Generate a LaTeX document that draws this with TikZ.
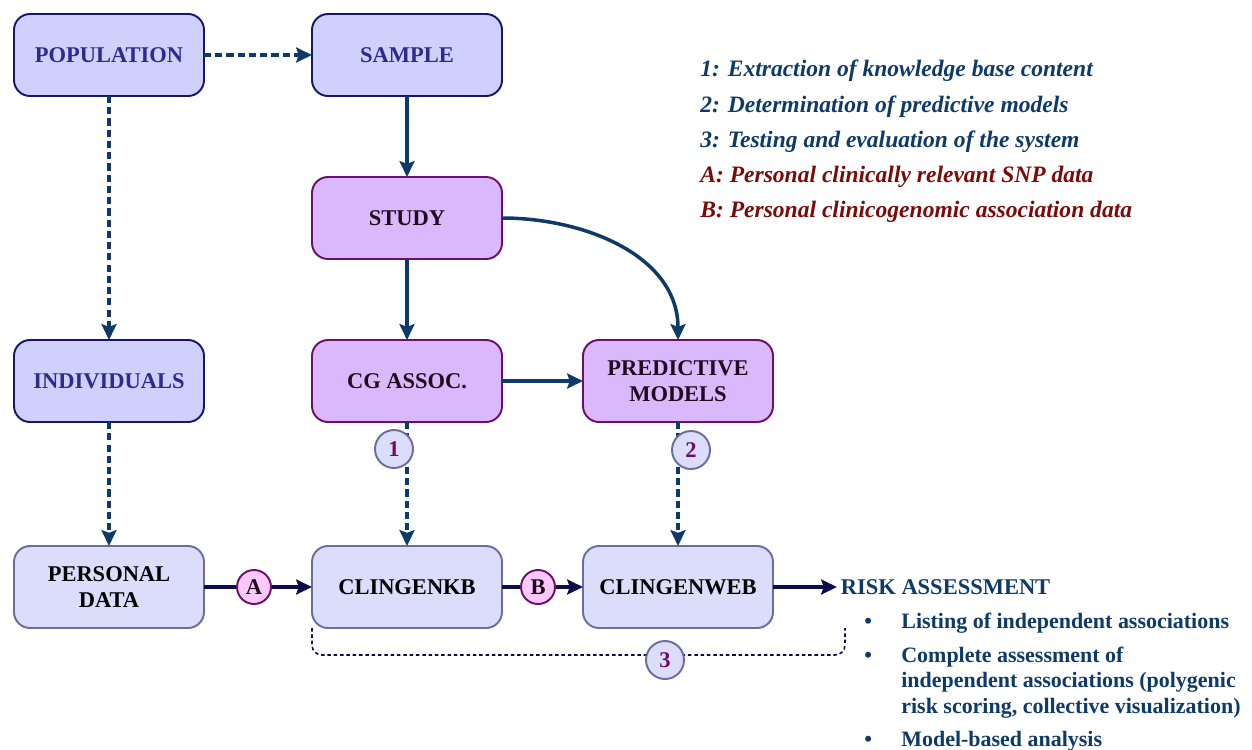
\documentclass[tikz,border=0pt]{standalone}
\usepackage{fontspec}
\setmainfont{Liberation Serif}
\usetikzlibrary{positioning,arrows.meta}
\definecolor{TopFill}{HTML}{CFD0FB}
\definecolor{TopLine}{HTML}{16166C}
\definecolor{TopText}{HTML}{2C2C8E}
\definecolor{PurpFill}{HTML}{DBB8FB}
\definecolor{PurpLine}{HTML}{6A0F6A}
\definecolor{PurpText}{HTML}{1E0B1E}
\definecolor{LowFill}{HTML}{DCDCFB}
\definecolor{LowLine}{HTML}{6C6C9E}
\definecolor{PinkFill}{HTML}{FAC8FA}
\definecolor{ArrowBlue}{HTML}{0E3A68}
\definecolor{DeepNavy}{HTML}{0C0C4A}
\definecolor{LegRed}{HTML}{7A0B0B}

\begin{document}
\begin{tikzpicture}[node distance=1.62cm and 2.16cm,
  every node/.style={font=\fontsize{12.8}{14.5}\selectfont\bfseries,align=center},
  box/.style={draw,rounded corners=0.32cm,line width=1.1pt,outer sep=0pt,minimum width=3.8cm,minimum height=1.64cm},
  topbox/.style={box,fill=TopFill,draw=TopLine,text=TopText},
  studybox/.style={box,fill=PurpFill,draw=PurpLine,text=PurpText},
  lowbox/.style={box,fill=LowFill,draw=LowLine,text=black},
  numcirc/.style={circle,draw=LowLine,fill=LowFill,text=PurpLine,line width=1.1pt,minimum size=0.76cm,inner sep=0pt},
  letcirc/.style={circle,draw=PurpLine,fill=PinkFill,text=PurpText,line width=1.1pt,minimum size=0.68cm,inner sep=0pt},
  solarr/.style={-{Stealth[length=9pt,width=8.5pt,inset=1.5pt]},line width=2pt,ArrowBlue},
  dasharr/.style={solarr,dash pattern=on 4pt off 2.4pt},
  navyarr/.style={solarr,DeepNavy}]
  \useasboundingbox (0,0) rectangle (25.04,-14.98);

  % upper part
  \node[topbox] (pop) at (2.18,-1.10) {POPULATION};
  \node[topbox,right=of pop] (smp) {SAMPLE};
  \node[studybox,below=of smp] (std) {STUDY};
  \node[studybox,below=of std] (cg) {CG ASSOC.};
  \node[topbox,left=of cg] (ind) {INDIVIDUALS};
  \node[studybox,right=1.62cm of cg] (pm) {PREDICTIVE\\MODELS};

  % lower part
  \node[lowbox,below=2.48cm of cg] (kb) {CLINGENKB};
  \node[lowbox,left=of kb] (pd) {PERSONAL\\DATA};
  \node[lowbox,right=1.62cm of kb] (web) {CLINGENWEB};
  \node[text=ArrowBlue,inner sep=2pt,right=1.28cm of web] (risk) {RISK ASSESSMENT};

  \draw[dasharr] (pop) -- (smp);
  \draw[dasharr] (pop) -- (ind);
  \draw[dasharr] (ind) -- (pd);
  \draw[solarr] (smp) -- (std);
  \draw[solarr] (std) -- (cg);
  \draw[solarr] (cg) -- (pm);
  \draw[solarr] (std.east) to[out=0,in=90] (pm.north);
  \draw[dasharr] (cg) -- (kb);
  \draw[dasharr] (pm) -- (web);
  \draw[navyarr] (pd) -- (kb);
  \draw[navyarr] (kb) -- (web);
  \draw[navyarr] (web) -- (risk);

  % bracket for the test step
  \coordinate (b3) at (16.9,-12.56);
  \draw[DeepNavy,line width=0.9pt,dash pattern=on 2pt off 1.6pt,rounded corners=0.2cm] (kb.south west) -- ++(0,-0.54) -| (b3);

  \node[numcirc] (c1) at ([xshift=-0.26cm,yshift=-0.54cm]cg.south) {1};
  \node[numcirc] (c2) at ([xshift=0.26cm,yshift=-0.56cm]pm.south) {2};
  \node[numcirc] (c3) at (13.3,-13.2) {3};
  \node[letcirc] (ca) at ([xshift=1.0cm]pd.east) {A};
  \node[letcirc] (cb) at ([xshift=0.72cm]kb.east) {B};

  % outcome list
  \node[anchor=north west,inner sep=0pt,text=ArrowBlue,align=left,font=\fontsize{12.5}{14.5}\selectfont\bfseries] (items) at (17.28,-12.2) {%
    \begin{tabular}{@{}p{0.5cm}@{\hspace{0.24cm}}l@{}}
    \textbullet & Listing of independent associations\\[4.8pt]
    \textbullet & Complete assessment of\\
     & independent associations (polygenic\\
     & risk scoring, collective visualization)\\[4.6pt]
    \textbullet & Model-based analysis
    \end{tabular}};

  % legend
  \node[anchor=north west,inner sep=0pt,align=left,font=\fontsize{13.4}{20}\selectfont\bfseries\itshape] (leg) at (14.0,-1.2) {%
    \textcolor{ArrowBlue}{1: Extraction of knowledge base content}\\
    \textcolor{ArrowBlue}{2: Determination of predictive models}\\
    \textcolor{ArrowBlue}{3: Testing and evaluation of the system}\\
    \textcolor{LegRed}{A: Personal clinically relevant SNP data}\\
    \textcolor{LegRed}{B: Personal clinicogenomic association data}};
\end{tikzpicture}
\end{document}
